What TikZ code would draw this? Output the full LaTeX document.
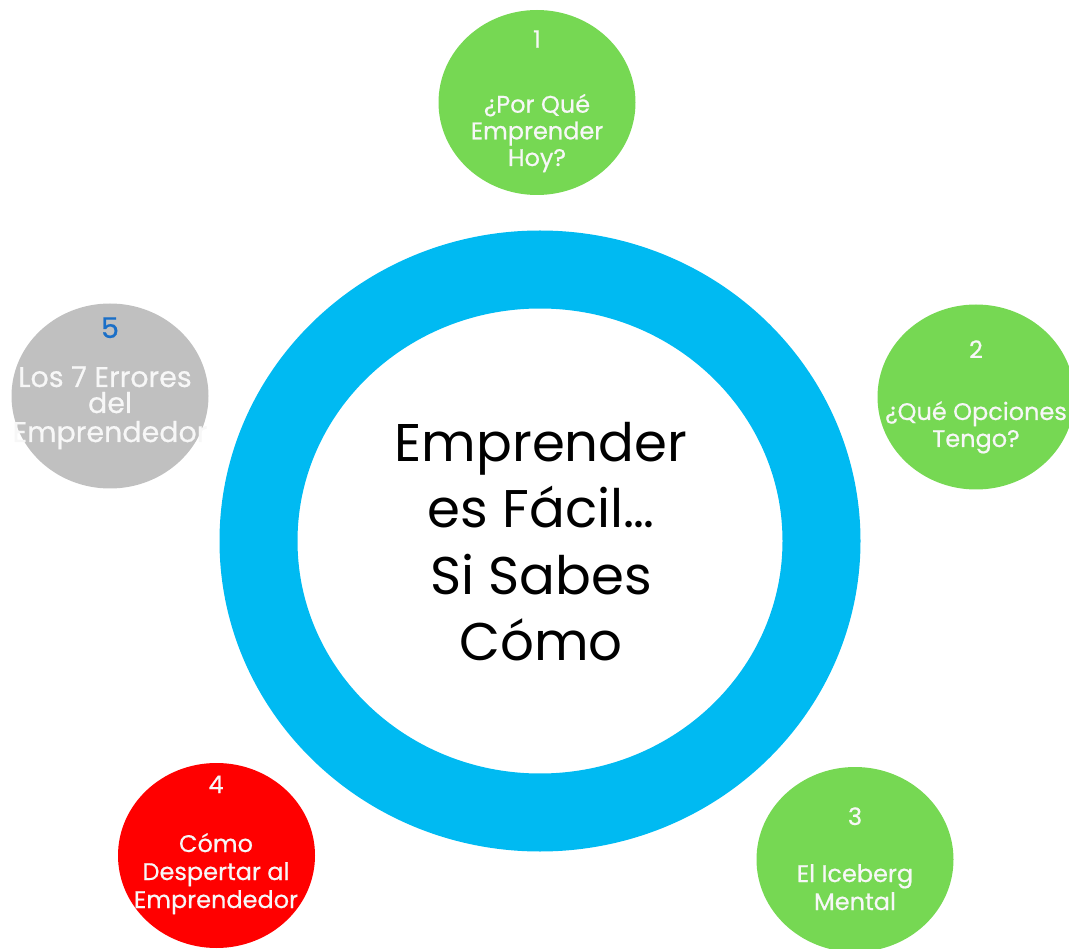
\documentclass[tikz,border=0pt]{standalone}
\usepackage{fontspec}
\setmainfont{Poppins}
\newfontfamily\bubfont[FakeBold=0.6]{Poppins}
\usetikzlibrary{shapes.geometric}
\definecolor{ringblue}{HTML}{00BAF2}
\definecolor{bubgreen}{HTML}{76D853}
\definecolor{bubred}{HTML}{FF0000}
\definecolor{bubgray}{HTML}{C0C0C0}
\definecolor{numblue}{HTML}{1A6FC8}
\definecolor{txtwhite}{HTML}{F7F7F7}
\tikzset{
  bub/.style={ellipse, inner sep=0pt, minimum width=197pt, minimum height=185pt},
  ln/.style={anchor=base, inner sep=0pt, text=txtwhite, font=\bubfont\fontsize{24}{28}\selectfont},
  lnbig/.style={ln, font=\bubfont\fontsize{28.5}{32}\selectfont},
  mid/.style={anchor=base, inner sep=0pt, text=black, font=\fontsize{53}{60}\selectfont}
}
\begin{document}
\begin{tikzpicture}[x=1pt,y=-1pt]
\useasboundingbox (0,0) rectangle (1069,949);
% central ring
\node[ellipse, draw=ringblue, line width=78pt, minimum width=563pt, minimum height=543pt, inner sep=0pt] (ring) at (540,541) {};
\node[mid] (m1) at (541,461.7) {Emprender};
\node[mid] (m2) at (541,527.8) {es Fácil…};
\node[mid] (m3) at (541,594) {Si Sabes};
\node[mid] (m4) at (541,660) {Cómo};
% bubble 1
\node[bub, fill=bubgreen] (c1) at (537,102.5) {};
\node[ln] (c1n) at (537,47.7) {1};
\node[ln] (c1a) at (537,112.7) {¿Por Qué};
\node[ln] (c1b) at (537,139.3) {Emprender};
\node[ln] (c1c) at (537,166) {Hoy?};
% bubble 2
\node[bub, fill=bubgreen] (c2) at (976,397) {};
\node[ln] (c2n) at (976,358) {2};
\node[ln] (c2a) at (976,420) {¿Qué Opciones};
\node[ln] (c2b) at (976,447) {Tengo?};
% bubble 3
\node[bub, fill=bubgreen] (c3) at (855,859.5) {};
\node[ln] (c3n) at (855,825) {3};
\node[ln] (c3a) at (855,882) {El Iceberg};
\node[ln] (c3b) at (855,910) {Mental};
% bubble 4
\node[bub, fill=bubred] (c4) at (216.5,855.5) {};
\node[ln] (c4n) at (216,793) {4};
\node[ln] (c4a) at (216,852) {Cómo};
\node[ln] (c4b) at (216,880) {Despertar al};
\node[ln] (c4c) at (216,908) {Emprendedor};
% bubble 5
\node[bub, fill=bubgray] (c5) at (110,396) {};
\node[lnbig, text=numblue] (c5n) at (110,338) {5};
\node[lnbig] (c5a) at (105,387) {Los 7 Errores};
\node[lnbig] (c5b) at (110,413) {del};
\node[lnbig] (c5c) at (110,442) {Emprendedor};
\end{tikzpicture}
\end{document}
